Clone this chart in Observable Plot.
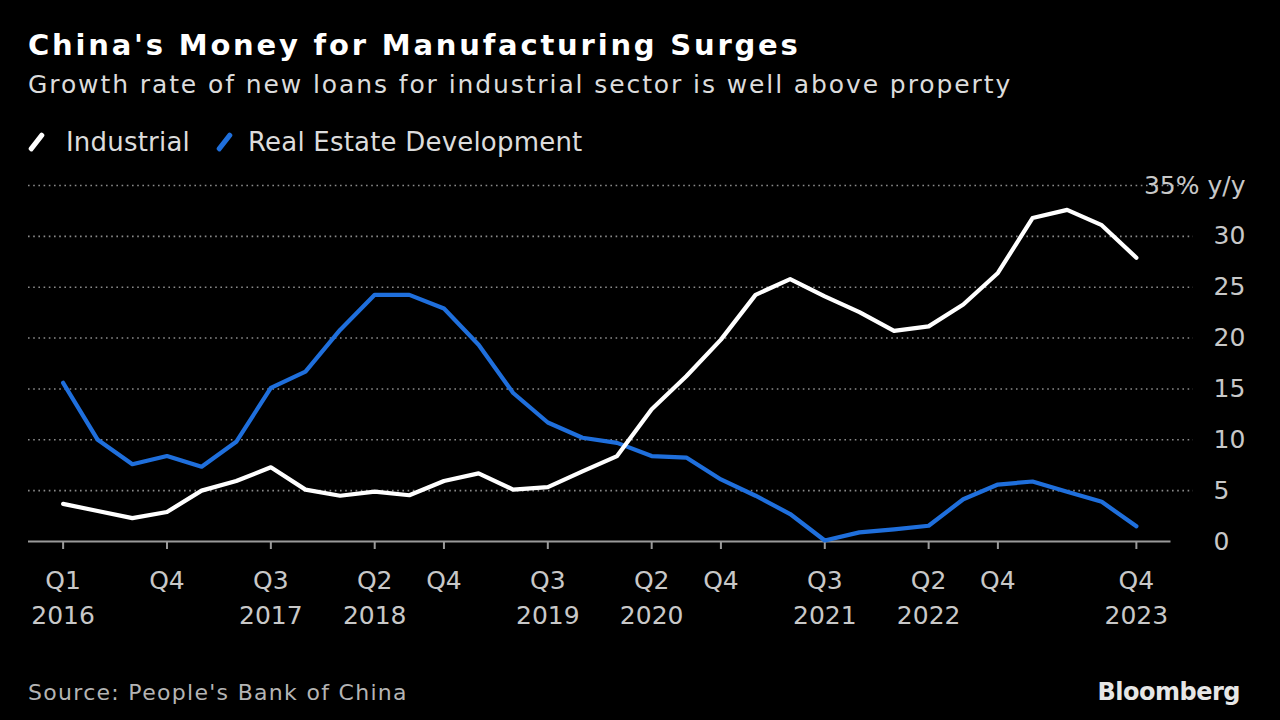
<!DOCTYPE html>
<html>
<head>
<meta charset="utf-8">
<script src="https://cdn.jsdelivr.net/npm/d3@7"></script>
<script src="https://cdn.jsdelivr.net/npm/@observablehq/plot@0.6"></script>
<style>
  html, body { margin: 0; padding: 0; background: #000; }
  #wrap { position: relative; width: 1280px; height: 720px; background: #000; overflow: hidden; font-family: "DejaVu Sans", sans-serif; }
  #title { position: absolute; left: 28px; top: 28px; font-size: 29px; font-weight: bold; color: #fff; white-space: nowrap; letter-spacing: 2.8px; }
  #subtitle { position: absolute; left: 28px; top: 70px; font-size: 25px; color: #dcdcdc; white-space: nowrap; letter-spacing: 1.9px; }
  #legend { position: absolute; left: 28px; top: 127px; font-size: 26px; color: #dcdcdc; white-space: nowrap; display: flex; align-items: center; letter-spacing: 0.2px; }
  .sw { display: inline-block; width: 5px; height: 22px; border-radius: 2px; transform: rotate(38deg); margin: 0 27px 0 6px; }
  .sw2 { margin-right: 21px; }
  .item { display: flex; align-items: center; margin-right: 26px; }
  #chart { position: absolute; left: 0; top: 160px; }
  #source { position: absolute; left: 28px; top: 680px; font-size: 22px; color: #b4b4b4; white-space: nowrap; letter-spacing: 1.3px; }
  #brand { position: absolute; right: 40px; top: 678px; font-size: 24px; font-weight: bold; color: #e6e6e6; white-space: nowrap; letter-spacing: -0.5px; }
</style>
</head>
<body>
<div id="wrap">
  <div id="title">China's Money for Manufacturing Surges</div>
  <div id="subtitle">Growth rate of new loans for industrial sector is well above property</div>
  <div id="legend"></div>
  <div id="chart"></div>
  <div id="source">Source: People's Bank of China</div>
  <div id="brand">Bloomberg</div>
</div>
<script>
const quarters = [
  "Q1 2016","Q2 2016","Q3 2016","Q4 2016",
  "Q1 2017","Q2 2017","Q3 2017","Q4 2017",
  "Q1 2018","Q2 2018","Q3 2018","Q4 2018",
  "Q1 2019","Q2 2019","Q3 2019","Q4 2019",
  "Q1 2020","Q2 2020","Q3 2020","Q4 2020",
  "Q1 2021","Q2 2021","Q3 2021","Q4 2021",
  "Q1 2022","Q2 2022","Q3 2022","Q4 2022",
  "Q1 2023","Q2 2023","Q3 2023","Q4 2023"
];
const industrial = [3.7,3.0,2.3,2.9,5.0,5.95,7.3,5.1,4.5,4.9,4.55,5.95,6.7,5.1,5.35,6.9,8.4,13.0,16.25,19.85,24.25,25.8,24.1,22.55,20.7,21.15,23.3,26.4,31.8,32.6,31.1,27.9];
const realEstate = [15.6,10.0,7.6,8.4,7.35,9.8,15.1,16.7,20.8,24.25,24.25,22.9,19.35,14.6,11.7,10.2,9.7,8.4,8.25,6.1,4.5,2.7,0.1,0.9,1.2,1.55,4.15,5.6,5.9,4.9,3.9,1.5];
const seriesNames = ["Real Estate Development", "Industrial"];
const seriesColors = ["#1f6fdc", "#ffffff"];
const legendOrder = ["Industrial", "Real Estate Development"];
const xTickQuarters = ["Q1 2016","Q4 2016","Q3 2017","Q2 2018","Q4 2018","Q3 2019","Q2 2020","Q4 2020","Q3 2021","Q2 2022","Q4 2022","Q4 2023"];
const xTickLabels = ["Q1\n2016","Q4","Q3\n2017","Q2\n2018","Q4","Q3\n2019","Q2\n2020","Q4","Q3\n2021","Q2\n2022","Q4","Q4\n2023"];
const yTicks = [0,5,10,15,20,25,30];
const yTopTick = 35;
const yTopLabel = "35% y/y";
const gridTicks = [5,10,15,20,25,30,35];
const xDomain = [-1, 32.65];
const axisLineEnd = 32;

// legend
const legend = document.getElementById("legend");
legendOrder.forEach((name, k) => {
  const c = seriesColors[seriesNames.indexOf(name)];
  const it = document.createElement("span");
  it.className = "item";
  const sw = document.createElement("span");
  sw.className = k === 0 ? "sw" : "sw sw2";
  sw.style.background = c;
  const tx = document.createElement("span");
  tx.textContent = name;
  it.appendChild(sw); it.appendChild(tx);
  legend.appendChild(it);
});

const data = [];
seriesNames.forEach(s => {
  const vals = s === "Industrial" ? industrial : realEstate;
  quarters.forEach((q, i) => data.push({series: s, i, q, value: vals[i]}));
});

const tickIdx = xTickQuarters.map(q => quarters.indexOf(q));
const labelOf = new Map(tickIdx.map((k, j) => [k, xTickLabels[j]]));

const chart = Plot.plot({
  width: 1280,
  height: 480,
  marginLeft: 28,
  marginRight: 87,
  marginTop: 25,
  marginBottom: 99,
  style: { background: "transparent", fontFamily: "DejaVu Sans, sans-serif", fontSize: "25px", color: "#c8c8c8" },
  x: { domain: xDomain },
  y: { domain: [0, 35] },
  color: { domain: seriesNames, range: seriesColors },
  marks: [
    Plot.ruleY(gridTicks, { stroke: "#8a8a8a", strokeWidth: 1.6, strokeDasharray: "1.6,3.6" }),
    Plot.ruleY([0], { x1: xDomain[0], x2: axisLineEnd, stroke: "#9a9a9a", strokeWidth: 2 }),
    Plot.axisX({ ticks: tickIdx, tickFormat: d => labelOf.get(d), tickSize: 8, tickPadding: 15, stroke: "#9a9a9a", strokeWidth: 2, fill: "#c8c8c8", fontSize: 25, lineHeight: 1.4, label: null }),
    Plot.axisY({ anchor: "right", ticks: yTicks, tickSize: 0, tickPadding: 20, fill: "#c8c8c8", fontSize: 25, label: null }),
    Plot.axisY({ anchor: "right", ticks: [yTopTick], tickFormat: () => yTopLabel, tickSize: 0, tickPadding: 20, dx: 32, textAnchor: "end", fill: "#c8c8c8", stroke: "#000", strokeWidth: 8, fontSize: 25, label: null }),
    Plot.line(data, { x: "i", y: "value", z: "series", stroke: "series", strokeWidth: 4.2, strokeLinejoin: "round", strokeLinecap: "round" })
  ]
});
document.getElementById("chart").appendChild(chart);
</script>
</body>
</html>
